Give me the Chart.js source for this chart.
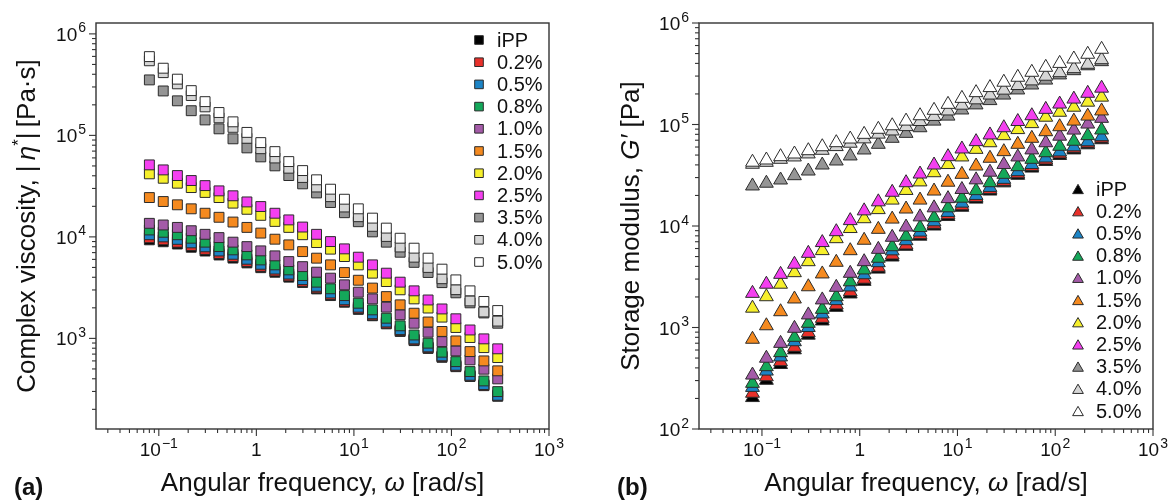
<!DOCTYPE html>
<html>
<head>
<meta charset="utf-8">
<script src="https://cdn.jsdelivr.net/npm/chart.js@4.4.1/dist/chart.umd.min.js"></script>
<style>
  html, body { margin: 0; padding: 0; background: #fff; }
  #wrap { position: relative; width: 1170px; height: 502px; }
  canvas { position: absolute; top: 0; }
  #viscosity { left: 0; }
  #modulus { left: 585px; }
</style>
</head>
<body>
<div id="wrap">
  <canvas id="viscosity" width="585" height="502"></canvas>
  <canvas id="modulus" width="585" height="502"></canvas>
</div>
<script>
// frequency sweep, rad/s
var omega = [0.08, 0.111, 0.155, 0.215, 0.298, 0.414, 0.576, 0.8, 1.11, 1.55, 2.15, 2.98, 4.14, 5.76,
             8, 11.1, 15.5, 21.5, 29.8, 41.4, 57.6, 80, 111, 155, 215, 298];

var labels = ['iPP', '0.2%', '0.5%', '0.8%', '1.0%', '1.5%', '2.0%', '2.5%', '3.5%', '4.0%', '5.0%'];
var fills  = ['#000000', '#e8302a', '#1c84c6', '#14a85a', '#a45ba8', '#f58a1f', '#f6ef2b', '#f43ff0',
              '#959595', '#d6d6d6', '#ffffff'];

// complex viscosity |eta*|, Pa.s
var etaIPP = [9350, 8950, 8500, 7900, 7250, 6630, 6180, 5540, 4970, 4480, 4010, 3550, 3070, 2640, 2270, 1930, 1670, 1390, 1170, 950, 796, 651, 526, 421, 342, 269];
var eta02 = [9800, 9350, 8850, 8200, 7520, 6860, 6390, 5720, 5120, 4610, 4120, 3640, 3140, 2700, 2320, 1970, 1700, 1410, 1190, 965, 808, 660, 533, 426, 346, 272];
var eta05 = [10500, 10000, 9450, 8730, 7980, 7260, 6740, 6020, 5370, 4820, 4300, 3790, 3260, 2800, 2400, 2030, 1750, 1450, 1220, 988, 825, 673, 543, 433, 351, 275];
var eta08 = [11700, 11100, 10500, 9700, 8870, 8020, 7450, 6650, 5930, 5300, 4730, 4160, 3580, 3080, 2640, 2220, 1910, 1580, 1330, 1080, 897, 731, 590, 471, 381, 299];
var eta10 = [13600, 13100, 12400, 11500, 10600, 9840, 8870, 8020, 7280, 6500, 5710, 5090, 4490, 3920, 3370, 2850, 2450, 2030, 1710, 1410, 1150, 929, 753, 614, 497, 399];
var eta15 = [24400, 22300, 20700, 18900, 17100, 15600, 14000, 12400, 10900, 9490, 8340, 7160, 6170, 5300, 4450, 3740, 3130, 2580, 2140, 1770, 1450, 1170, 944, 741, 600, 479];
var eta20 = [41800, 37800, 33800, 30600, 27400, 24400, 21500, 18700, 16300, 14200, 12400, 10500, 8790, 7570, 6400, 5300, 4390, 3630, 3010, 2450, 1990, 1620, 1280, 1020, 811, 647];
var eta25 = [51200, 45700, 40200, 35900, 32000, 28400, 25400, 22100, 19900, 17100, 14700, 12500, 10600, 8990, 7620, 6310, 5300, 4390, 3580, 2940, 2390, 1950, 1560, 1210, 989, 789];
var eta35 = [352000, 274000, 219000, 175000, 142000, 116000, 92500, 75300, 61400, 50100, 40200, 33300, 27100, 21800, 17300, 14100, 11200, 8870, 7060, 5610, 4460, 3540, 2810, 2240, 1780, 1410];
var eta40 = [543000, 415000, 322000, 247000, 191000, 149000, 120000, 93600, 73900, 59900, 47500, 38500, 31000, 24900, 19700, 15800, 12700, 10100, 7950, 6310, 5000, 3870, 3020, 2340, 1820, 1480];
var eta50 = [597000, 459000, 358000, 276000, 215000, 168000, 136000, 107000, 84900, 69200, 55200, 45000, 36500, 29500, 23500, 18900, 15300, 12200, 9700, 7740, 6170, 4810, 3770, 2940, 2310, 1880];

// storage modulus G', Pa
var gIPP = [204, 302, 432, 603, 841, 1160, 1580, 2140, 2850, 3760, 4950, 6310, 7940, 10000, 12400, 15300, 18400, 22100, 26600, 31600, 37200, 43200, 49500, 56200, 63100, 70800];
var g02 = [225, 327, 460, 638, 889, 1230, 1670, 2250, 2990, 3920, 5180, 6500, 8220, 10400, 12900, 15800, 19100, 22900, 27500, 32700, 38500, 44700, 51300, 58200, 65300, 73300];
var g05 = [257, 372, 513, 724, 1000, 1360, 1840, 2510, 3310, 4350, 5690, 7160, 8710, 11000, 13600, 16800, 20000, 24000, 28800, 34300, 40300, 46800, 53700, 60300, 67600, 75900];
var g08 = [282, 411, 565, 800, 1100, 1510, 2010, 2820, 3690, 4810, 6250, 7910, 9660, 12100, 15100, 18800, 22300, 26700, 32300, 38400, 45400, 52700, 61000, 68400, 77600, 88300];
var g10 = [340, 498, 698, 982, 1330, 1870, 2490, 3420, 4450, 5890, 7740, 9770, 12300, 15100, 18600, 22900, 28500, 33900, 40300, 47900, 56200, 66100, 76700, 88100, 101000, 115000];
var g15 = [766, 1040, 1430, 1910, 2520, 3370, 4390, 5710, 7240, 9270, 11700, 14700, 18000, 22100, 27000, 32300, 39000, 46500, 54000, 63800, 73100, 84900, 95100, 108000, 121000, 136000];
var g20 = [1550, 2010, 2670, 3470, 4450, 5720, 7500, 9440, 11800, 14500, 18000, 22400, 27200, 33500, 40300, 47900, 56900, 66100, 77600, 89100, 102000, 118000, 132000, 148000, 166000, 186000];
var g25 = [2170, 2670, 3340, 4200, 5380, 6870, 8790, 11300, 14100, 17300, 21500, 26700, 32500, 39900, 48200, 57400, 67800, 78900, 92900, 107000, 122000, 141000, 159000, 178000, 203000, 228000];
var g35 = [24800, 26400, 28400, 31300, 34800, 39900, 43700, 49000, 56100, 63800, 73100, 81800, 92900, 108000, 121000, 139000, 156000, 172000, 195000, 219000, 245000, 274000, 308000, 339000, 379000, 416000];
var g40 = [40600, 42400, 45400, 47900, 51300, 55700, 60600, 65400, 72200, 80400, 86400, 95300, 107000, 120000, 136000, 155000, 175000, 195000, 218000, 242000, 269000, 299000, 324000, 355000, 392000, 435000];
var g50 = [42500, 44700, 48200, 51200, 55200, 60400, 66200, 71900, 80000, 89700, 97200, 108000, 122000, 138000, 158000, 181000, 206000, 231000, 261000, 292000, 327000, 366000, 400000, 442000, 492000, 551000];

var FONT = '"Liberation Sans", Arial, Helvetica, sans-serif';
var INK = '#111';
var EDGE = '#2b2b2b';

function makeSets(series, style, radius) {
  return series.map(function (ys, i) {
    return {
      label: labels[i],
      data: ys.map(function (y, k) { return { x: omega[k], y: y }; }),
      pointStyle: style,
      pointRadius: radius,
      pointHoverRadius: radius,
      backgroundColor: fills[i],
      borderColor: EDGE,
      borderWidth: 1,
      // higher concentrations sit on top
      order: series.length - 1 - i
    };
  });
}

function logTicks(min, max) {
  var out = [];
  for (var e = Math.floor(Math.log10(min)); e <= Math.ceil(Math.log10(max)); e++) {
    for (var k = 1; k < 10; k++) {
      var v = k * Math.pow(10, e);
      if (v >= min * 0.9999 && v <= max * 1.0001) out.push({ v: v, e: e, major: k === 1 });
    }
  }
  return out;
}

// "10" with a raised exponent, "1" for the zero power
function powerLabel(ctx, e, x, y, align) {
  ctx.textBaseline = 'alphabetic';
  ctx.fillStyle = INK;
  if (e === 0) {
    ctx.font = '19px ' + FONT;
    var w1 = ctx.measureText('1').width;
    ctx.fillText('1', align === 'center' ? x - w1 / 2 : x - w1, y);
    return;
  }
  var sup = e < 0 ? '\u2212' + (-e) : String(e);
  ctx.font = '19px ' + FONT;
  var wb = ctx.measureText('10').width;
  ctx.font = '14px ' + FONT;
  var ws = ctx.measureText(sup).width;
  var w = wb + 1 + ws;
  var x0 = align === 'center' ? x - w / 2 : x - w;
  ctx.font = '19px ' + FONT;
  ctx.fillText('10', x0, y);
  ctx.font = '14px ' + FONT;
  ctx.fillText(sup, x0 + wb + 1, y - 8.5);
}

function richText(ctx, parts, x, y) {
  var total = 0;
  parts.forEach(function (p) { ctx.font = p.font; p.w = ctx.measureText(p.t).width; total += p.w; });
  var cx = x - total / 2;
  parts.forEach(function (p) {
    ctx.font = p.font;
    ctx.fillText(p.t, cx, y + (p.dy || 0));
    cx += p.w;
  });
}

function legendMarker(ctx, style, x, y, color) {
  ctx.fillStyle = color;
  ctx.strokeStyle = EDGE;
  ctx.lineWidth = 1;
  ctx.beginPath();
  if (style === 'rect') {
    ctx.rect(x - 4.3, y - 4.3, 8.6, 8.6);
  } else {
    var r = 6.2, cy = y + r / 4;
    ctx.moveTo(x, cy - r);
    ctx.lineTo(x + r * 0.866, cy + r / 2);
    ctx.lineTo(x - r * 0.866, cy + r / 2);
    ctx.closePath();
  }
  ctx.fill();
  ctx.stroke();
}

var decor = {
  id: 'decor',
  afterDraw: function (chart, args, opts) {
    var ctx = chart.ctx, a = chart.chartArea;
    var xs = chart.scales.x, ys = chart.scales.y;
    ctx.save();

    // frame and outward ticks on bottom and left
    ctx.strokeStyle = '#333';
    ctx.lineWidth = 1.4;
    ctx.strokeRect(a.left, a.top, a.right - a.left, a.bottom - a.top);
    ctx.lineWidth = 1.1;
    logTicks(xs.min, xs.max).forEach(function (t) {
      var p = xs.getPixelForValue(t.v);
      ctx.beginPath();
      ctx.moveTo(p, a.bottom);
      ctx.lineTo(p, a.bottom + (t.major ? 7 : 4));
      ctx.stroke();
      if (t.major) powerLabel(ctx, t.e, p, a.bottom + 27, 'center');
    });
    logTicks(ys.min, ys.max).forEach(function (t) {
      var p = ys.getPixelForValue(t.v);
      ctx.beginPath();
      ctx.moveTo(a.left, p);
      ctx.lineTo(a.left - (t.major ? 7 : 4), p);
      ctx.stroke();
      if (t.major) powerLabel(ctx, t.e, a.left - 10, p + 7, 'right');
    });

    // axis titles
    ctx.fillStyle = INK;
    ctx.textBaseline = 'alphabetic';
    var reg = '26px ' + FONT, ital = 'italic 26px ' + FONT;
    richText(ctx, [
      { t: 'Angular frequency, ', font: reg },
      { t: '\u03c9', font: ital },
      { t: ' [rad/s]', font: reg }
    ], (a.left + a.right) / 2, 491);
    ctx.save();
    ctx.translate(opts.yTitleX, (a.top + a.bottom) / 2);
    ctx.rotate(-Math.PI / 2);
    richText(ctx, opts.yTitle(reg, ital), 0, 0);
    ctx.restore();

    // panel letter
    ctx.font = 'bold 24px ' + FONT;
    ctx.fillText(opts.letter, opts.letterX, 495);

    // legend
    ctx.textBaseline = 'middle';
    chart.data.datasets.forEach(function (ds, i) {
      var y = opts.legendY + i * 22.2;
      legendMarker(ctx, ds.pointStyle, opts.legendX, y, ds.backgroundColor);
      ctx.fillStyle = INK;
      ctx.font = '20px ' + FONT;
      ctx.fillText(ds.label, opts.legendX + 18, y + 1);
    });
    ctx.restore();
  }
};

function logAxis(min, max, size, key) {
  return {
    type: 'logarithmic',
    min: min,
    max: max,
    bounds: 'data',
    grid: { display: false },
    border: { display: false },
    ticks: { display: false },
    afterFit: function (scale) { scale[key] = size; }
  };
}

function panel(id, series, style, radius, yMin, yMax, pad, deco) {
  return new Chart(document.getElementById(id), {
    type: 'scatter',
    data: { datasets: makeSets(series, style, radius) },
    options: {
      responsive: false,
      animation: false,
      clip: false,
      layout: { autoPadding: false, padding: { left: 0, top: 23, right: pad.right, bottom: 0 } },
      scales: {
        x: logAxis(0.0227, 1000, 73, 'height'),
        y: logAxis(yMin, yMax, pad.left, 'width')
      },
      plugins: { legend: { display: false }, tooltip: { enabled: false }, decor: deco }
    },
    plugins: [decor]
  });
}

panel('viscosity',
  [etaIPP, eta02, eta05, eta08, eta10, eta15, eta20, eta25, eta35, eta40, eta50],
  'rect', 7, 128, 1.28e6, { left: 96, right: 36 },
  {
    letter: '(a)', letterX: 14, legendX: 479, legendY: 40, yTitleX: 35,
    yTitle: function (reg, ital) {
      return [
        { t: 'Complex viscosity, |\u2009', font: reg },
        { t: '\u03b7', font: ital },
        { t: '*', font: '17px ' + FONT, dy: -11 },
        { t: '|\u2009[Pa\u00b7s]', font: reg }
      ];
    }
  });

panel('modulus',
  [gIPP, g02, g05, g08, g10, g15, g20, g25, g35, g40, g50],
  'triangle', 8, 100, 1e6, { left: 114, right: 17 },
  {
    letter: '(b)', letterX: 32, legendX: 493, legendY: 189, yTitleX: 54,
    yTitle: function (reg, ital) {
      return [
        { t: 'Storage modulus, ', font: reg },
        { t: 'G\u2032', font: ital },
        { t: ' [Pa]', font: reg }
      ];
    }
  });
</script>
</body>
</html>
